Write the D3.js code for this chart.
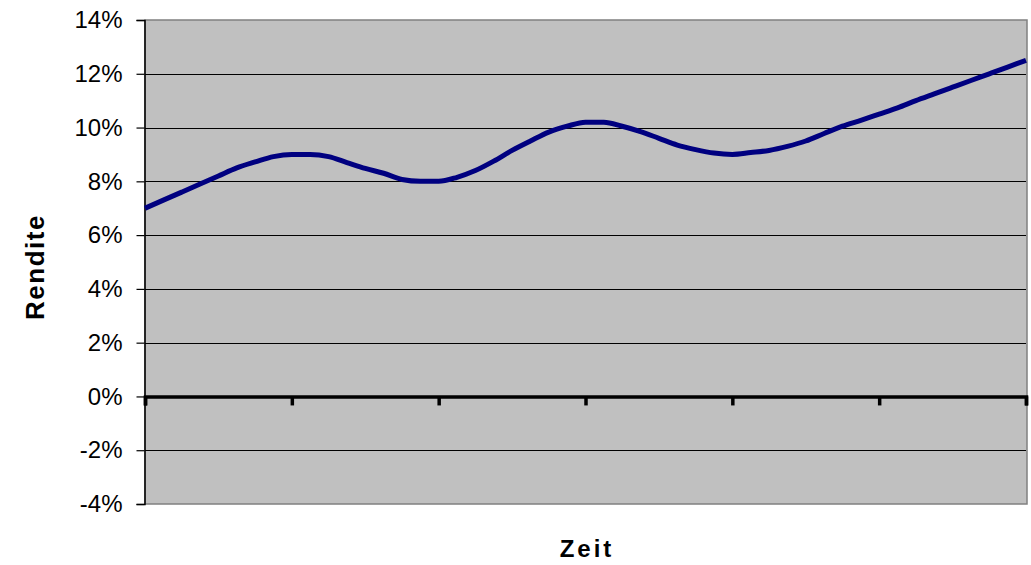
<!DOCTYPE html>
<html>
<head>
<meta charset="utf-8">
<script src="https://cdn.jsdelivr.net/npm/d3@7"></script>
<style>
  body { margin: 0; background: #fff; }
  svg { display: block; font-family: "Liberation Sans", Arial, sans-serif; }
</style>
</head>
<body>
<div id="chart"></div>
<script>
var width = 1031;
var height = 565;

// Rendite in Prozent, 49 Punkte (8 pro Achsenintervall)
var rendite = [
  7.0, 7.3, 7.6, 7.9, 8.2, 8.5, 8.72, 8.92,
  9.0, 9.0, 8.92, 8.7, 8.48, 8.3, 8.07, 8.0,
  8.0, 8.15, 8.4, 8.75, 9.15, 9.5, 9.83, 10.05,
  10.2, 10.2, 10.05, 9.85, 9.6, 9.35, 9.18, 9.05,
  9.0, 9.07, 9.15, 9.3, 9.5, 9.78, 10.05, 10.27,
  10.5, 10.73, 11.0, 11.25, 11.5, 11.75, 12.0, 12.25,
  12.5
];
var yTicks = [-4, -2, 0, 2, 4, 6, 8, 10, 12, 14];
var xTicks = [0, 8, 16, 24, 32, 40, 48];

var margin = {top: 20, right: 4, bottom: 61, left: 145};

var x = d3.scaleLinear()
  .domain([0, rendite.length - 1])
  .range([margin.left, width - margin.right - 1]);

var y = d3.scaleLinear()
  .domain([-4, 14])
  .range([height - margin.bottom, margin.top]);

var svg = d3.select("#chart")
  .append("svg")
  .attr("width", width)
  .attr("height", height);

// plot area
svg.append("rect")
  .attr("x", margin.left)
  .attr("y", margin.top)
  .attr("width", x.range()[1] - margin.left + 1)
  .attr("height", y(-4) - y(14))
  .attr("fill", "#c0c0c0")
  .attr("stroke", "#808080")
  .attr("stroke-width", 1.5);

// gridlines
svg.append("g")
  .selectAll("line")
  .data(yTicks.filter(function(d) { return d !== -4 && d !== 14 && d !== 0; }))
  .enter()
  .append("line")
  .attr("x1", margin.left)
  .attr("x2", x.range()[1])
  .attr("y1", function(d) { return Math.round(y(d)) + 0.5; })
  .attr("y2", function(d) { return Math.round(y(d)) + 0.5; })
  .attr("stroke", "#000")
  .attr("stroke-width", 1);

// y axis
var yAxis = d3.axisLeft(y)
  .tickValues(yTicks)
  .tickSize(8)
  .tickPadding(14)
  .tickFormat(function(d) { return d + "%"; });

var gy = svg.append("g")
  .attr("transform", "translate(" + (margin.left - 0.5) + ",0)")
  .call(yAxis);
gy.select(".domain").attr("stroke", "#000").attr("stroke-width", 1.5);
gy.selectAll(".tick line").attr("stroke", "#000").attr("stroke-width", 1.2);
gy.selectAll(".tick text")
  .attr("fill", "#000")
  .style("font-size", "24px")
  .style("font-family", "'Liberation Sans', Arial, sans-serif");

// x axis at 0%
var xAxis = d3.axisBottom(x)
  .tickValues(xTicks)
  .tickSize(9)
  .tickFormat("");

var gx = svg.append("g")
  .attr("transform", "translate(0," + y(0) + ")")
  .call(xAxis);
gx.select(".domain").attr("stroke", "#000").attr("stroke-width", 3.5);
gx.selectAll(".tick line").attr("stroke", "#000").attr("stroke-width", 3.5);

// line
var line = d3.line()
  .x(function(d, i) { return x(i); })
  .y(function(d) { return y(d); })
  .curve(d3.curveMonotoneX);

svg.append("path")
  .datum(rendite)
  .attr("d", line)
  .attr("fill", "none")
  .attr("stroke", "#000080")
  .attr("stroke-width", 5)
  .attr("stroke-linejoin", "round");

// axis titles
svg.append("text")
  .attr("transform", "translate(44," + 267 + ") rotate(-90)")
  .attr("text-anchor", "middle")
  .style("font-size", "26px")
  .style("font-weight", "bold")
  .style("letter-spacing", "1.5px")
  .text("Rendite");

svg.append("text")
  .attr("x", 587)
  .attr("y", 557)
  .attr("text-anchor", "middle")
  .style("font-size", "24px")
  .style("font-weight", "bold")
  .style("letter-spacing", "3px")
  .text("Zeit");
</script>
</body>
</html>
